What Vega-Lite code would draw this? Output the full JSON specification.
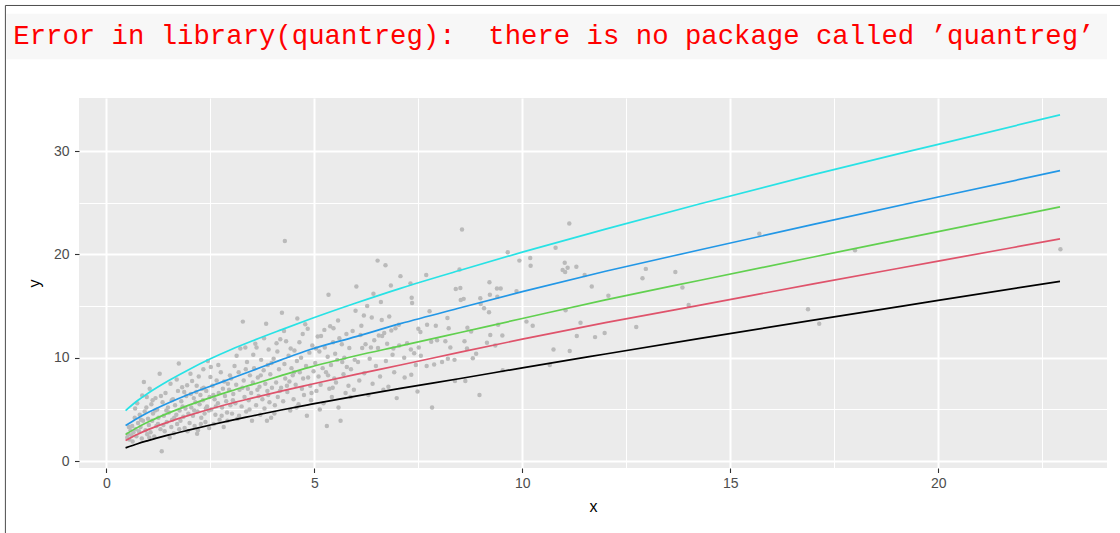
{
  "$schema": "https://vega.github.io/schema/vega-lite/v6.json",
  "width": 1028,
  "height": 370,
  "padding": {"left": 4, "top": 4, "right": 0, "bottom": 0},
  "autosize": {"type": "pad"},
  "background": "white",
  "config": {"view": {"fill": "#ebebeb", "stroke": null}},
  "datasets": {
    "one": [{}],
    "msg": [{"text": "Error in library(quantreg):\u00a0 there is no package called ’quantreg’"}],
    "pts": [
      {"x":0.5,"y":2.3},{"x":0.52,"y":2.6},{"x":0.55,"y":2.1},{"x":0.58,"y":3.0},{"x":0.6,"y":2.5},{"x":0.62,"y":3.4},{"x":0.65,"y":2.8},{"x":0.68,"y":4.2},{"x":0.7,"y":3.1},{"x":0.72,"y":2.4},{"x":0.74,"y":5.6},{"x":0.76,"y":3.7},{"x":0.78,"y":2.9},{"x":0.8,"y":4.5},{"x":0.82,"y":3.3},{"x":0.85,"y":2.2},{"x":0.86,"y":6.35},{"x":0.88,"y":3.9},{"x":0.9,"y":7.65},{"x":0.92,"y":4.8},{"x":0.94,"y":3.0},{"x":0.96,"y":5.2},{"x":0.98,"y":2.6},{"x":1.0,"y":4.1},{"x":1.02,"y":3.5},
      {"x":1.04,"y":7.0},{"x":1.06,"y":2.8},{"x":1.08,"y":5.5},{"x":1.1,"y":3.9},{"x":1.12,"y":4.6},{"x":1.15,"y":2.4},{"x":1.18,"y":6.1},{"x":1.2,"y":3.4},{"x":1.22,"y":5.0},{"x":1.25,"y":4.2},{"x":1.28,"y":8.45},{"x":1.3,"y":3.1},{"x":1.33,"y":0.97},{"x":1.35,"y":5.7},{"x":1.38,"y":4.4},{"x":1.4,"y":2.9},{"x":1.42,"y":6.6},{"x":1.45,"y":3.8},{"x":1.48,"y":5.2},{"x":1.5,"y":4.7},{"x":1.54,"y":7.5},{"x":1.56,"y":3.3},{"x":1.58,"y":4.0},{"x":1.6,"y":6.0},{"x":1.62,"y":2.7},{"x":1.65,"y":5.4},{"x":1.68,"y":4.5},{"x":1.7,"y":3.6},{"x":1.72,"y":6.8},{"x":1.74,"y":9.45},{"x":1.76,"y":4.9},{"x":1.78,"y":3.9},{"x":1.8,"y":5.8},{"x":1.82,"y":7.15},{"x":1.85,"y":4.3},{"x":1.88,"y":3.2},{"x":1.9,"y":5.1},{"x":1.92,"y":6.3},{"x":1.94,"y":7.35},{"x":1.97,"y":4.6},{"x":2.0,"y":3.7},
      {"x":2.02,"y":8.45},{"x":2.04,"y":5.2},{"x":2.06,"y":7.75},{"x":2.08,"y":4.4},{"x":2.1,"y":6.1},{"x":2.12,"y":3.4},{"x":2.14,"y":5.7},{"x":2.16,"y":6.7},{"x":2.18,"y":2.65},{"x":2.19,"y":4.8},{"x":2.2,"y":3.0},{"x":2.22,"y":8.2},{"x":2.24,"y":5.5},{"x":2.26,"y":6.4},{"x":2.28,"y":4.2},{"x":2.3,"y":7.0},{"x":2.32,"y":5.9},{"x":2.34,"y":7.1},{"x":2.36,"y":4.6},{"x":2.38,"y":3.8},{"x":2.4,"y":6.8},{"x":2.42,"y":5.3},{"x":2.44,"y":9.7},{"x":2.46,"y":4.9},{"x":2.48,"y":6.2},{"x":2.5,"y":8.15},{"x":2.51,"y":9.1},{"x":2.52,"y":5.0},{"x":2.55,"y":7.3},{"x":2.58,"y":3.6},{"x":2.6,"y":6.0},{"x":2.62,"y":4.5},{"x":2.65,"y":7.8},{"x":2.68,"y":5.6},{"x":2.7,"y":6.6},{"x":2.72,"y":4.0},{"x":2.75,"y":8.6},{"x":2.78,"y":5.2},{"x":2.8,"y":7.0},{"x":2.82,"y":3.3},{"x":2.85,"y":6.3},{"x":2.88,"y":5.8},{"x":2.9,"y":4.7},{"x":2.92,"y":7.5},{"x":2.95,"y":6.9},{"x":2.98,"y":5.4},
      {"x":3.0,"y":8.0},{"x":3.02,"y":4.6},{"x":3.05,"y":6.5},{"x":3.08,"y":9.2},{"x":3.1,"y":5.6},{"x":3.12,"y":7.4},{"x":3.15,"y":4.1},{"x":3.18,"y":8.6},{"x":3.2,"y":6.9},{"x":3.22,"y":10.9},{"x":3.25,"y":5.3},{"x":3.28,"y":13.5},{"x":3.3,"y":7.8},{"x":3.32,"y":6.2},{"x":3.34,"y":11.0},{"x":3.36,"y":4.8},{"x":3.38,"y":9.6},{"x":3.4,"y":7.0},{"x":3.42,"y":5.9},{"x":3.45,"y":8.3},{"x":3.48,"y":6.6},{"x":3.5,"y":3.9},{"x":3.52,"y":7.6},{"x":3.55,"y":9.0},{"x":3.58,"y":11.35},{"x":3.6,"y":5.4},{"x":3.61,"y":11.0},{"x":3.64,"y":8.1},{"x":3.66,"y":6.3},{"x":3.68,"y":7.2},{"x":3.7,"y":4.5},{"x":3.72,"y":9.8},{"x":3.75,"y":6.0},{"x":3.78,"y":8.8},{"x":3.8,"y":5.1},{"x":3.82,"y":7.5},{"x":3.84,"y":13.3},{"x":3.86,"y":3.9},{"x":3.87,"y":6.8},{"x":3.88,"y":9.3},{"x":3.9,"y":10.8},{"x":3.92,"y":5.7},{"x":3.94,"y":8.4},{"x":3.96,"y":4.2},{"x":3.98,"y":7.1},
      {"x":4.02,"y":9.9},{"x":4.05,"y":5.4},{"x":4.08,"y":7.6},{"x":4.09,"y":11.4},{"x":4.12,"y":6.2},{"x":4.15,"y":8.9},{"x":4.18,"y":11.8},{"x":4.2,"y":7.1},{"x":4.22,"y":14.35},{"x":4.25,"y":5.8},{"x":4.28,"y":9.4},{"x":4.29,"y":21.3},{"x":4.3,"y":8.0},{"x":4.32,"y":11.6},{"x":4.35,"y":6.7},{"x":4.38,"y":10.2},{"x":4.4,"y":7.7},{"x":4.42,"y":4.9},{"x":4.45,"y":9.0},{"x":4.48,"y":8.3},{"x":4.5,"y":6.0},{"x":4.52,"y":10.7},{"x":4.55,"y":7.4},{"x":4.58,"y":9.7},{"x":4.59,"y":13.8},{"x":4.62,"y":5.5},{"x":4.65,"y":8.6},{"x":4.68,"y":10.0},{"x":4.7,"y":7.0},{"x":4.72,"y":12.3},{"x":4.75,"y":6.4},{"x":4.78,"y":13.25},{"x":4.8,"y":9.2},{"x":4.82,"y":4.4},{"x":4.85,"y":8.1},{"x":4.88,"y":10.5},{"x":4.9,"y":7.3},{"x":4.92,"y":5.9},{"x":4.95,"y":11.2},{"x":4.98,"y":8.7},
      {"x":5.02,"y":9.5},{"x":5.05,"y":6.8},{"x":5.08,"y":12.05},{"x":5.1,"y":8.2},{"x":5.12,"y":10.6},{"x":5.15,"y":7.4},{"x":5.16,"y":12.1},{"x":5.2,"y":9.0},{"x":5.22,"y":5.6},{"x":5.25,"y":11.0},{"x":5.28,"y":8.6},{"x":5.3,"y":3.4},{"x":5.32,"y":10.1},{"x":5.34,"y":16.1},{"x":5.36,"y":7.0},{"x":5.38,"y":13.05},{"x":5.4,"y":9.3},{"x":5.42,"y":6.2},{"x":5.45,"y":11.5},{"x":5.46,"y":12.85},{"x":5.48,"y":8.0},{"x":5.5,"y":10.4},{"x":5.52,"y":7.6},{"x":5.55,"y":9.8},{"x":5.58,"y":5.2},{"x":5.6,"y":11.9},{"x":5.63,"y":3.9},{"x":5.66,"y":11.3},{"x":5.7,"y":8.4},{"x":5.72,"y":10.0},{"x":5.75,"y":6.6},{"x":5.78,"y":9.1},{"x":5.82,"y":7.3},{"x":5.84,"y":10.95},{"x":5.88,"y":8.9},{"x":5.92,"y":12.6},{"x":5.95,"y":6.9},{"x":5.99,"y":14.55},
      {"x":6.01,"y":16.9},{"x":6.05,"y":9.6},{"x":6.08,"y":7.8},{"x":6.11,"y":12.2},{"x":6.15,"y":10.95},{"x":6.19,"y":14.1},{"x":6.2,"y":8.5},{"x":6.23,"y":11.3},{"x":6.27,"y":15.0},{"x":6.3,"y":6.4},{"x":6.33,"y":9.9},{"x":6.38,"y":13.9},{"x":6.4,"y":7.5},{"x":6.42,"y":16.2},{"x":6.44,"y":11.7},{"x":6.48,"y":9.2},{"x":6.52,"y":19.4},{"x":6.53,"y":10.95},{"x":6.55,"y":12.15},{"x":6.58,"y":8.2},{"x":6.62,"y":13.65},{"x":6.63,"y":12.1},{"x":6.66,"y":6.9},{"x":6.68,"y":12.4},{"x":6.71,"y":18.95},{"x":6.72,"y":9.7},{"x":6.75,"y":11.35},{"x":6.78,"y":7.2},{"x":6.84,"y":17.0},{"x":6.85,"y":12.65},{"x":6.88,"y":10.3},{"x":6.92,"y":8.6},{"x":6.95,"y":12.85},{"x":6.98,"y":6.1},
      {"x":7.03,"y":13.2},{"x":7.04,"y":11.2},{"x":7.07,"y":17.9},{"x":7.16,"y":10.0},{"x":7.17,"y":8.1},{"x":7.23,"y":11.4},{"x":7.31,"y":17.2},{"x":7.32,"y":10.8},{"x":7.33,"y":8.35},{"x":7.34,"y":15.8},{"x":7.35,"y":15.3},{"x":7.4,"y":10.45},{"x":7.44,"y":9.3},{"x":7.48,"y":6.75},{"x":7.5,"y":12.8},{"x":7.51,"y":11.0},{"x":7.55,"y":12.5},{"x":7.56,"y":10.2},{"x":7.69,"y":18.0},{"x":7.7,"y":9.2},{"x":7.71,"y":13.2},{"x":7.77,"y":14.5},{"x":7.81,"y":11.55},{"x":7.83,"y":5.2},{"x":7.88,"y":9.35},{"x":7.92,"y":13.1},{"x":7.95,"y":11.7},
      {"x":8.07,"y":9.6},{"x":8.15,"y":11.6},{"x":8.2,"y":13.85},{"x":8.21,"y":9.9},{"x":8.23,"y":12.85},{"x":8.27,"y":11.0},{"x":8.37,"y":9.8},{"x":8.38,"y":7.75},{"x":8.4,"y":16.65},{"x":8.49,"y":18.55},{"x":8.51,"y":16.75},{"x":8.52,"y":15.6},{"x":8.55,"y":22.4},{"x":8.59,"y":15.7},{"x":8.61,"y":11.6},{"x":8.63,"y":7.75},{"x":8.67,"y":10.9},{"x":8.68,"y":12.9},{"x":8.77,"y":12.55},{"x":8.81,"y":9.95},{"x":8.89,"y":10.4},{"x":8.97,"y":6.4},{"x":8.99,"y":15.75},{"x":9.0,"y":15.2},{"x":9.08,"y":14.8},{"x":9.15,"y":11.45},{"x":9.2,"y":14.4},{"x":9.21,"y":17.3},{"x":9.22,"y":16.1},{"x":9.23,"y":12.2},{"x":9.35,"y":11.2},{"x":9.39,"y":16.7},{"x":9.4,"y":15.9},{"x":9.42,"y":13.2},{"x":9.48,"y":16.7},{"x":9.52,"y":12.15},{"x":9.53,"y":8.8},{"x":9.65,"y":20.2},{"x":9.86,"y":16.45},{"x":9.93,"y":19.4},
      {"x":10.1,"y":13.5},{"x":10.19,"y":19.65},{"x":10.2,"y":18.9},{"x":10.25,"y":13.1},{"x":10.66,"y":9.3},{"x":10.75,"y":10.8},{"x":10.8,"y":20.65},{"x":10.97,"y":18.5},{"x":11.02,"y":19.2},{"x":11.03,"y":18.3},{"x":11.04,"y":14.6},{"x":11.09,"y":18.7},{"x":11.13,"y":23.0},{"x":11.14,"y":10.65},{"x":11.3,"y":18.8},{"x":11.31,"y":12.1},{"x":11.4,"y":13.4},{"x":11.5,"y":18.0},{"x":11.67,"y":16.9},{"x":11.75,"y":12.0},{"x":11.98,"y":12.4},{"x":12.07,"y":16.0},{"x":12.74,"y":12.97},{"x":12.89,"y":17.7},{"x":12.97,"y":18.6},{"x":13.68,"y":18.3},{"x":13.85,"y":16.8},{"x":14.0,"y":15.1},{"x":15.7,"y":22.0},{"x":16.87,"y":14.7},{"x":17.14,"y":13.3},{"x":18.0,"y":20.4},{"x":22.94,"y":20.5},
      {"x":0.54,"y":3.3},{"x":0.63,"y":1.9},{"x":0.69,"y":5.1},{"x":0.83,"y":4.0},{"x":0.97,"y":6.2},{"x":1.03,"y":2.3},{"x":1.11,"y":5.9},{"x":1.17,"y":4.9},{"x":1.24,"y":3.6},{"x":1.31,"y":6.3},{"x":1.37,"y":3.5},{"x":1.44,"y":4.9},{"x":1.52,"y":2.3},{"x":1.57,"y":5.9},{"x":1.63,"y":4.2},{"x":1.69,"y":7.9},{"x":1.75,"y":3.1},{"x":1.83,"y":5.3},{"x":1.87,"y":6.7},{"x":1.95,"y":2.9},{"x":2.03,"y":6.5},{"x":2.11,"y":4.9},{"x":2.17,"y":7.3},{"x":2.27,"y":3.6},{"x":2.33,"y":8.9},{"x":2.39,"y":5.1},{"x":2.47,"y":3.2},{"x":2.57,"y":6.4},{"x":2.63,"y":5.3},{"x":2.69,"y":9.3},{"x":2.77,"y":4.4},{"x":2.83,"y":7.7},{"x":2.91,"y":3.9},{"x":2.97,"y":8.3},{"x":3.04,"y":5.9},{"x":3.13,"y":10.2},{"x":3.19,"y":4.4},{"x":3.27,"y":7.1},{"x":3.35,"y":8.9},{"x":3.44,"y":5.0},{"x":3.53,"y":10.3},{"x":3.63,"y":6.9},{"x":3.71,"y":8.3},{"x":3.79,"y":11.9},{"x":3.89,"y":6.4},{"x":3.97,"y":9.5},{"x":4.04,"y":4.6},{"x":4.11,"y":10.6},{"x":4.17,"y":6.8},{"x":4.27,"y":12.6},{"x":4.34,"y":7.3},{"x":4.43,"y":10.9},{"x":4.51,"y":8.6},{"x":4.57,"y":5.2},{"x":4.64,"y":11.5},{"x":4.73,"y":8.0},{"x":4.84,"y":12.8},{"x":4.93,"y":6.6},{"x":5.04,"y":10.9},{"x":5.13,"y":5.0},{"x":5.24,"y":12.7},{"x":5.33,"y":8.3},{"x":5.44,"y":7.1},{"x":5.57,"y":13.6},{"x":5.67,"y":9.6},{"x":5.77,"y":12.3},{"x":5.87,"y":6.2},{"x":5.97,"y":9.8},{"x":6.13,"y":13.1},{"x":6.36,"y":11.0},{"x":6.6,"y":15.4},{"x":6.8,"y":14.0},{"x":6.9,"y":10.9}
    ],
    "lines": [
      {"q":"q1","x":0.46,"y":1.29},{"q":"q1","x":0.75,"y":1.69},{"q":"q1","x":1,"y":1.99},{"q":"q1","x":1.5,"y":2.54},{"q":"q1","x":2,"y":3.03},{"q":"q1","x":2.5,"y":3.5},{"q":"q1","x":3,"y":3.95},{"q":"q1","x":3.5,"y":4.37},{"q":"q1","x":4.2,"y":4.95},{"q":"q1","x":4.9,"y":5.49},{"q":"q1","x":6,"y":6.3},{"q":"q1","x":7.07,"y":7.05},{"q":"q1","x":8.51,"y":8.0},{"q":"q1","x":10,"y":9.03},{"q":"q1","x":12,"y":10.37},{"q":"q1","x":14.28,"y":11.88},{"q":"q1","x":17,"y":13.65},{"q":"q1","x":20,"y":15.55},{"q":"q1","x":22.93,"y":17.4},
      {"q":"q2","x":0.46,"y":2.0},{"q":"q2","x":0.75,"y":2.6},{"q":"q2","x":1,"y":3.05},{"q":"q2","x":1.5,"y":3.8},{"q":"q2","x":2,"y":4.45},{"q":"q2","x":2.5,"y":5.05},{"q":"q2","x":3,"y":5.6},{"q":"q2","x":3.5,"y":6.1},{"q":"q2","x":4.2,"y":6.78},{"q":"q2","x":4.9,"y":7.42},{"q":"q2","x":6,"y":8.4},{"q":"q2","x":7.07,"y":9.3},{"q":"q2","x":8.51,"y":10.55},{"q":"q2","x":10,"y":11.8},{"q":"q2","x":12,"y":13.4},{"q":"q2","x":14.28,"y":15.1},{"q":"q2","x":17,"y":17.15},{"q":"q2","x":20,"y":19.35},{"q":"q2","x":22.93,"y":21.5},
      {"q":"q3","x":0.46,"y":2.58},{"q":"q3","x":0.75,"y":3.27},{"q":"q3","x":1,"y":3.78},{"q":"q3","x":1.5,"y":4.67},{"q":"q3","x":2,"y":5.45},{"q":"q3","x":2.5,"y":6.15},{"q":"q3","x":3,"y":6.8},{"q":"q3","x":3.5,"y":7.4},{"q":"q3","x":4.2,"y":8.27},{"q":"q3","x":4.9,"y":9.1},{"q":"q3","x":6,"y":10.2},{"q":"q3","x":7.07,"y":11.15},{"q":"q3","x":8.51,"y":12.45},{"q":"q3","x":10,"y":13.8},{"q":"q3","x":12,"y":15.6},{"q":"q3","x":14.28,"y":17.5},{"q":"q3","x":17,"y":19.75},{"q":"q3","x":20,"y":22.2},{"q":"q3","x":22.93,"y":24.6},
      {"q":"q4","x":0.46,"y":3.45},{"q":"q4","x":0.75,"y":4.15},{"q":"q4","x":1,"y":4.7},{"q":"q4","x":1.5,"y":5.65},{"q":"q4","x":2,"y":6.5},{"q":"q4","x":2.5,"y":7.25},{"q":"q4","x":3,"y":8.0},{"q":"q4","x":3.5,"y":8.75},{"q":"q4","x":4.2,"y":9.8},{"q":"q4","x":4.9,"y":10.8},{"q":"q4","x":6,"y":12.05},{"q":"q4","x":7.07,"y":13.3},{"q":"q4","x":8.51,"y":14.84},{"q":"q4","x":10,"y":16.4},{"q":"q4","x":12,"y":18.37},{"q":"q4","x":14.28,"y":20.45},{"q":"q4","x":17,"y":22.9},{"q":"q4","x":20,"y":25.55},{"q":"q4","x":22.93,"y":28.1},
      {"q":"q5","x":0.46,"y":4.9},{"q":"q5","x":0.75,"y":5.87},{"q":"q5","x":1,"y":6.57},{"q":"q5","x":1.5,"y":7.8},{"q":"q5","x":2,"y":8.9},{"q":"q5","x":2.5,"y":9.9},{"q":"q5","x":3,"y":10.8},{"q":"q5","x":3.5,"y":11.62},{"q":"q5","x":4.2,"y":12.7},{"q":"q5","x":4.9,"y":13.75},{"q":"q5","x":6,"y":15.3},{"q":"q5","x":7.07,"y":16.72},{"q":"q5","x":8.51,"y":18.47},{"q":"q5","x":10,"y":20.22},{"q":"q5","x":12,"y":22.45},{"q":"q5","x":14.28,"y":24.9},{"q":"q5","x":17,"y":27.72},{"q":"q5","x":20,"y":30.65},{"q":"q5","x":22.93,"y":33.5}
    ]
  },
  "layer": [
    {
      "data": {"name": "one"},
      "mark": {"type": "point", "opacity": 0},
      "encoding": {
        "x": {"datum": 5, "type": "quantitative", "scale": {"domain": [-0.66, 24.06], "nice": false, "zero": false},
          "axis": {"orient": "bottom", "values": [2.5, 7.5, 12.5, 17.5, 22.5], "grid": true, "gridColor": "white", "gridWidth": 1, "labels": false, "ticks": false, "domain": false, "title": null, "minExtent": 0, "maxExtent": 0}},
        "y": {"datum": 5, "type": "quantitative", "scale": {"domain": [-0.66, 35.13], "nice": false, "zero": false},
          "axis": {"orient": "left", "values": [5, 15, 25], "grid": true, "gridColor": "white", "gridWidth": 1, "labels": false, "ticks": false, "domain": false, "title": null, "minExtent": 0, "maxExtent": 0}}
      }
    },
    {
      "encoding": {
        "x": {"type": "quantitative", "scale": {"domain": [-0.66, 24.06], "nice": false, "zero": false}},
        "y": {"type": "quantitative", "scale": {"domain": [-0.66, 35.13], "nice": false, "zero": false}}
      },
      "layer": [
        {
          "data": {"name": "one"},
          "mark": {"type": "rect", "fill": "#f7f7f7"},
          "encoding": {
            "x": {"datum": -2.406, "type": "quantitative",
              "axis": {"orient": "bottom", "values": [0, 5, 10, 15, 20], "title": "x", "grid": true, "gridColor": "white", "gridWidth": 2, "domain": false, "tickColor": "#333333", "tickSize": 4.5, "tickWidth": 1.1, "labelColor": "#4d4d4d", "labelFontSize": 14, "labelFont": "Liberation Sans", "labelPadding": 4, "titleFont": "Liberation Sans", "titleFontSize": 16, "titleFontWeight": "normal", "titleColor": "black", "titlePadding": 8}},
            "x2": {"datum": 24.06},
            "y": {"datum": 43.29, "type": "quantitative",
              "axis": {"orient": "left", "values": [0, 10, 20, 30], "title": "y", "grid": true, "gridColor": "white", "gridWidth": 2, "domain": false, "tickColor": "#333333", "tickSize": 4.5, "tickWidth": 1.1, "labelColor": "#4d4d4d", "labelFontSize": 14, "labelFont": "Liberation Sans", "labelPadding": 5.5, "titleFont": "Liberation Sans", "titleFontSize": 16, "titleFontWeight": "normal", "titleColor": "black", "titlePadding": 11}},
            "y2": {"datum": 38.87}
          }
        },
        {
          "data": {"name": "one"},
          "mark": {"type": "rule", "color": "#4d4d4d", "strokeWidth": 1},
          "encoding": {
            "x": {"datum": -2.43, "type": "quantitative"},
            "x2": {"datum": 24.39},
            "y": {"datum": 44.08, "type": "quantitative"}
          }
        },
        {
          "data": {"name": "one"},
          "mark": {"type": "rule", "color": "#4d4d4d", "strokeWidth": 1},
          "encoding": {
            "x": {"datum": -2.43, "type": "quantitative"},
            "y": {"datum": 44.08, "type": "quantitative"},
            "y2": {"datum": -6.97}
          }
        },
        {
          "data": {"name": "msg"},
          "mark": {"type": "text", "align": "left", "baseline": "alphabetic", "font": "Liberation Mono", "fontSize": 27.3, "color": "#ff0000"},
          "encoding": {
            "x": {"datum": -2.24, "type": "quantitative"},
            "y": {"datum": 40.33, "type": "quantitative"},
            "text": {"field": "text", "type": "nominal"}
          }
        },
        {
          "data": {"name": "pts"},
          "mark": {"type": "point", "filled": true, "size": 20, "color": "#bababa", "opacity": 1},
          "encoding": {
            "x": {"field": "x", "type": "quantitative"},
            "y": {"field": "y", "type": "quantitative"}
          }
        },
        {
          "data": {"name": "lines"},
          "mark": {"type": "line", "strokeWidth": 1.7, "interpolate": "monotone"},
          "encoding": {
            "x": {"field": "x", "type": "quantitative"},
            "y": {"field": "y", "type": "quantitative"},
            "color": {"field": "q", "type": "nominal", "scale": {"domain": ["q1", "q2", "q3", "q4", "q5"], "range": ["#000000", "#DF536B", "#61D04F", "#2297E6", "#28E2E5"]}, "legend": null}
          }
        }
      ]
    }
  ],
  "resolve": {"scale": {"x": "independent", "y": "independent"}, "axis": {"x": "independent", "y": "independent"}}
}
